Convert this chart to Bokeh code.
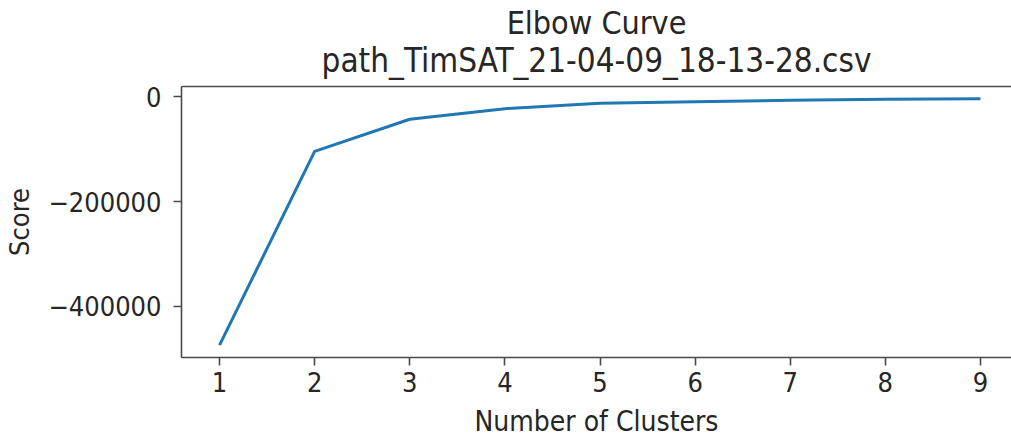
from bokeh.plotting import figure
from bokeh.models import Range1d, LinearAxis, Title, FixedTicker
from bokeh.embed import file_html
from bokeh.resources import INLINE

# Elbow curve: k-means score per number of clusters
clusters = [1, 2, 3, 4, 5, 6, 7, 8, 9]
scores = [-474000, -104000, -42500, -22300, -12000, -9000, -6300, -4400, -3500]
y_ticks = [-400000, -200000, 0]
x_ticks = clusters

title_main = "Elbow Curve"
title_sub = "path_TimSAT_21-04-09_18-13-28.csv"
x_label = "Number of Clusters"
y_label = "Score"

FONT = "DejaVu Sans Condensed, DejaVu Sans"
TEXT = "#262626"
SPINE = "#4a4a4a"
LINE = "#1f77b4"

W, H = 1011, 440
LEFT, TOP, BOTTOM = 181, 86, 83
FULL_FRAME_W = 837  # the axes box runs a little past the right page edge

# 5% margins around the data, like the usual autoscaling
xs, xe = min(clusters), max(clusters)
xpad = 0.05 * (xe - xs)
x0, x1_full = xs - xpad, xe + xpad
visible_w = W - LEFT
x1 = x0 + (x1_full - x0) * visible_w / FULL_FRAME_W

ys, ye = min(scores), max(scores)
ypad = 0.05 * (ye - ys)

p = figure(
    width=W, height=H,
    output_backend="svg", toolbar_location=None,
    x_range=Range1d(x0, x1), y_range=Range1d(ys - ypad, ye + ypad),
    min_border_left=LEFT, min_border_right=0,
    min_border_top=TOP, min_border_bottom=BOTTOM,
)
p.grid.visible = False
p.outline_line_color = None
p.background_fill_color = "white"
p.border_fill_color = "white"

p.line(clusters, scores, line_color=LINE, line_width=3)

def style_axis(ax, size):
    ax.axis_line_color = SPINE
    ax.axis_line_width = 1.6
    ax.major_tick_line_color = SPINE
    ax.major_tick_line_width = 1.6
    ax.major_tick_out = 8
    ax.major_tick_in = 0
    ax.minor_tick_line_color = None
    ax.major_label_text_font = FONT
    ax.major_label_text_font_size = size
    ax.major_label_text_color = TEXT
    ax.axis_label_text_font = FONT
    ax.axis_label_text_font_size = size
    ax.axis_label_text_color = TEXT
    ax.axis_label_text_font_style = "normal"

xa = p.xaxis[0]
style_axis(xa, "27px")
xa.axis_label_text_font_size = "28px"
xa.ticker = FixedTicker(ticks=x_ticks)
xa.axis_label = x_label
xa.major_label_standoff = 6
xa.axis_label_standoff = 10

ya = p.yaxis[0]
style_axis(ya, "27px")
ya.ticker = FixedTicker(ticks=y_ticks)
ya.major_label_overrides = {t: ("\u2212" + str(abs(t)) if t < 0 else str(t)) for t in y_ticks}
ya.axis_label = y_label
ya.major_label_standoff = 12
ya.axis_label_standoff = 10

# top spine drawn as a bare axis
top = LinearAxis(ticker=FixedTicker(ticks=[]), major_tick_out=0, major_tick_in=0,
                 minor_tick_line_color=None, major_label_text_font_size="0px",
                 major_label_standoff=0, axis_line_color=SPINE, axis_line_width=1.6)
p.add_layout(top, "above")

# two title lines, the upper one pulled down close to the lower
p.add_layout(Title(text=title_sub, align="center", text_font=FONT, text_font_size="33px",
                   text_font_style="normal", text_color=TEXT, standoff=14), "above")
p.add_layout(Title(text=title_main, align="center", text_font=FONT, text_font_size="32px",
                   text_font_style="normal", text_color=TEXT, standoff=-20), "above")

open("out.html", "w").write(file_html(p, INLINE))
